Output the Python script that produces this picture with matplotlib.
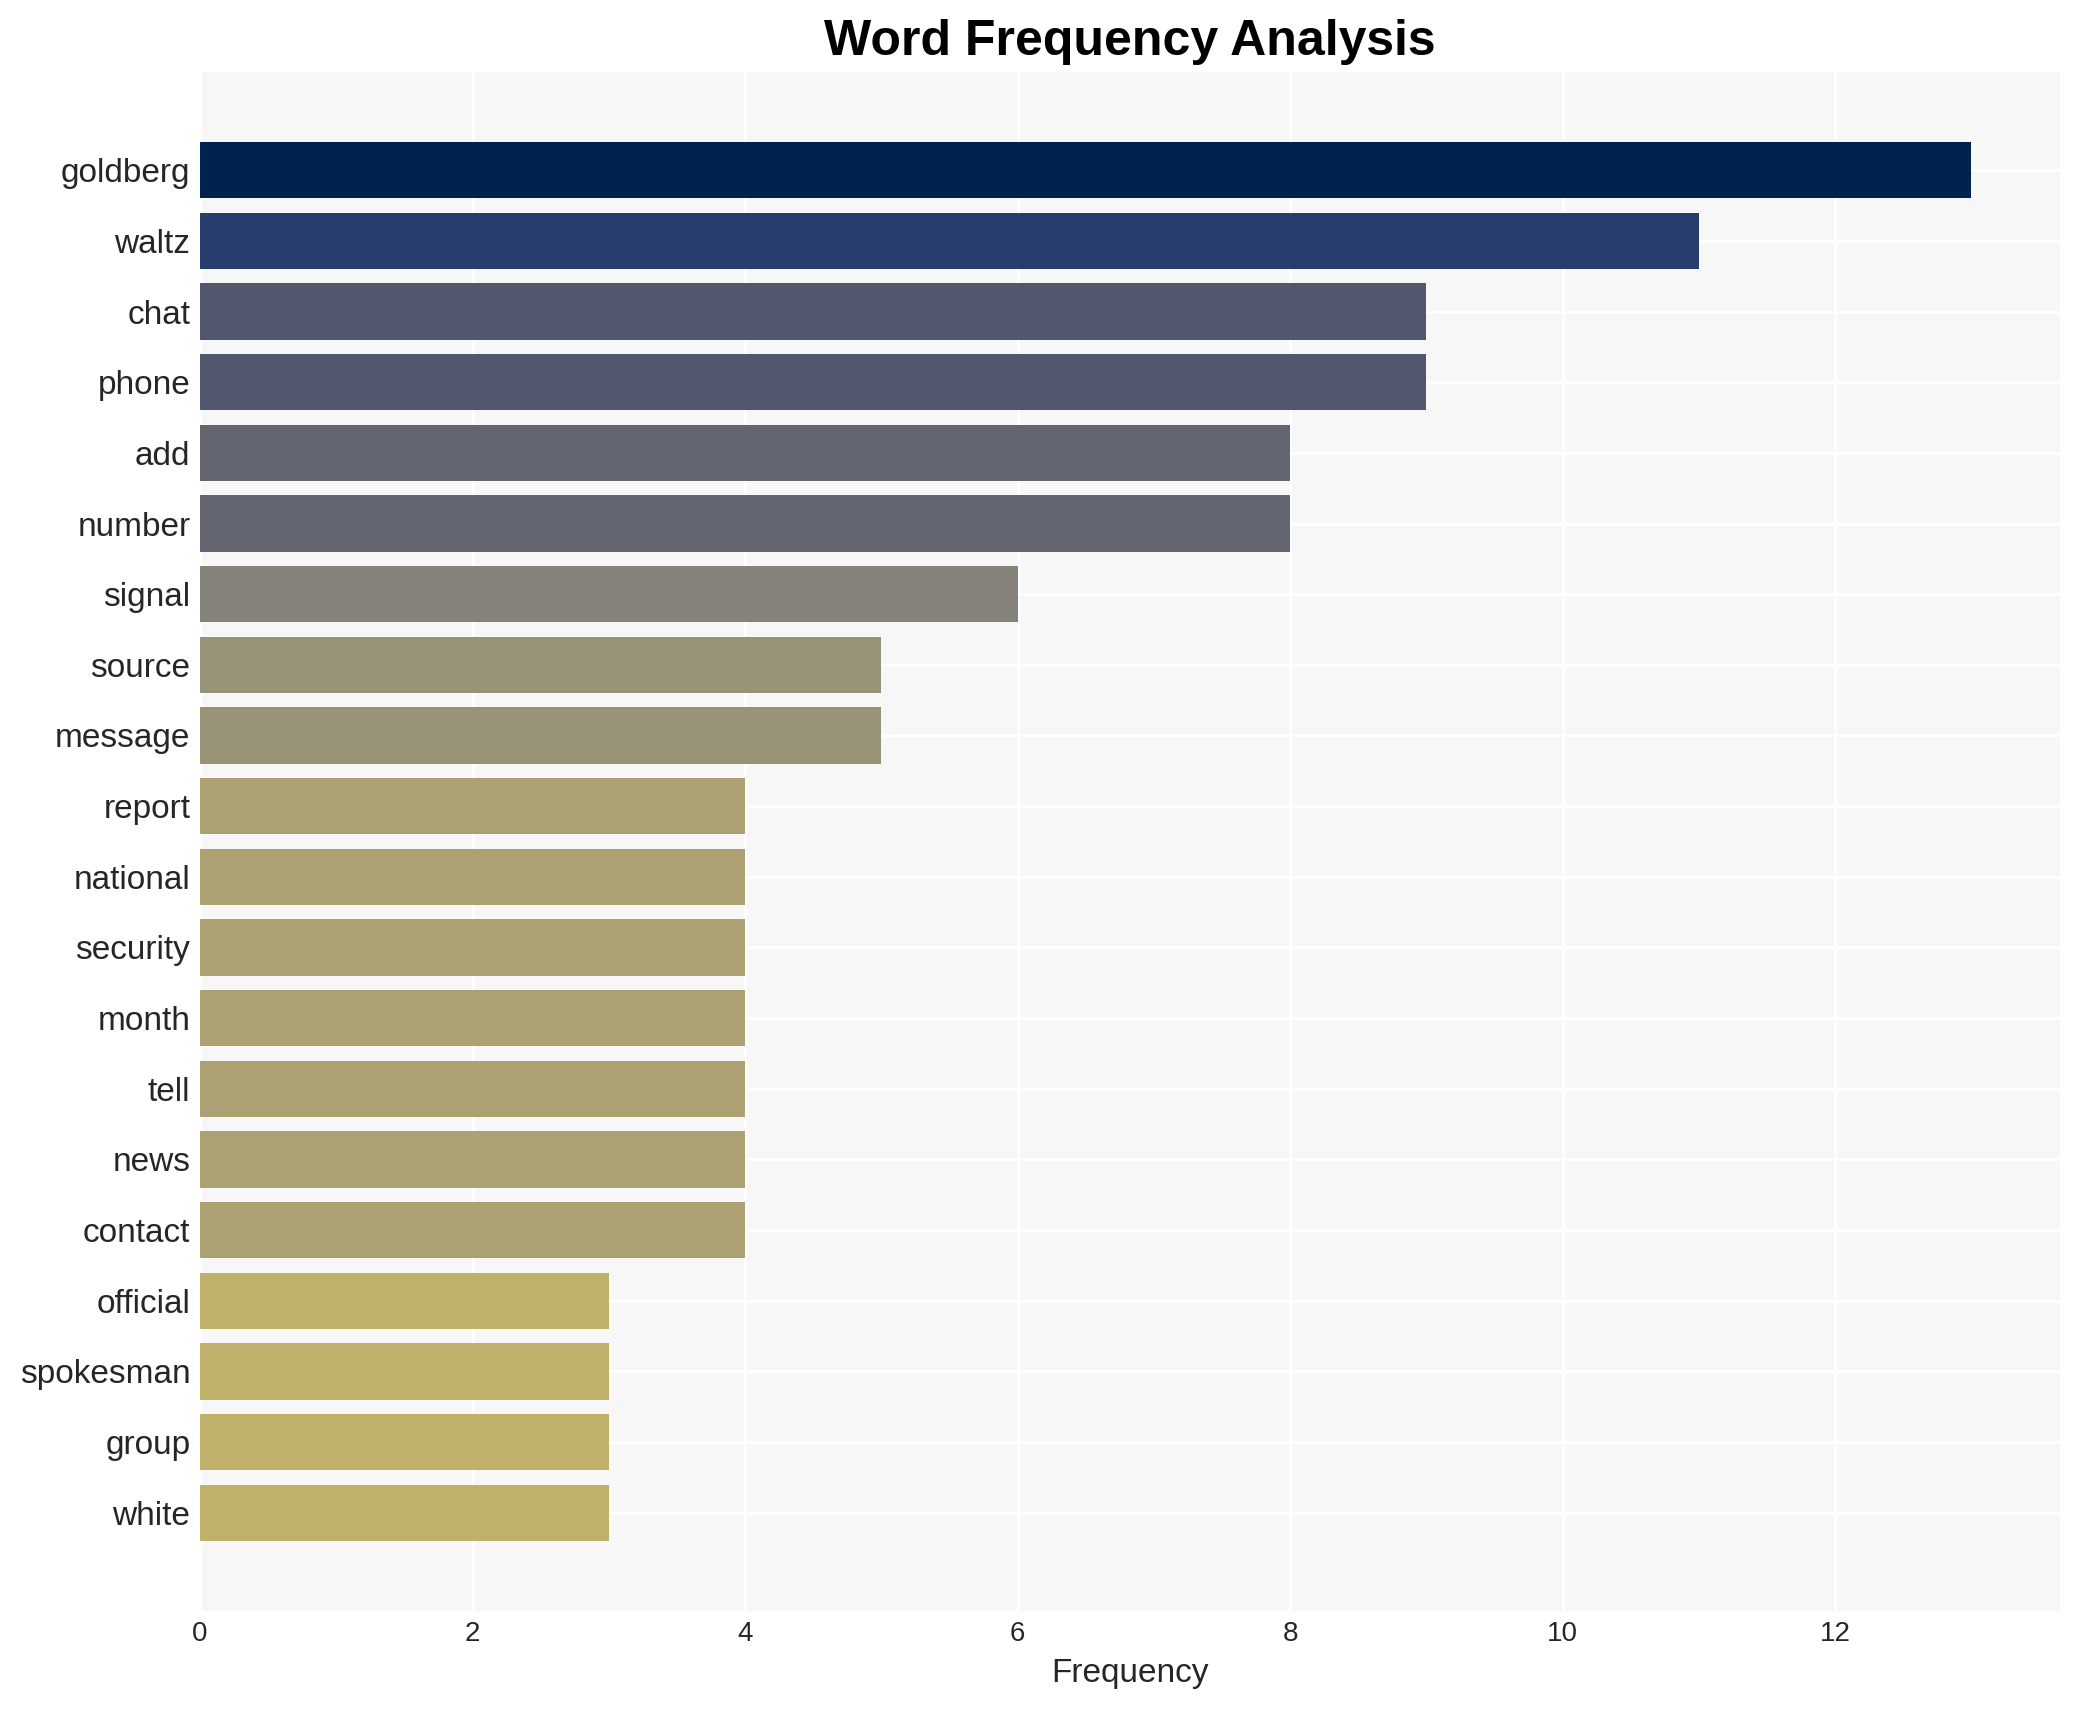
import numpy as np
import matplotlib
matplotlib.use('Agg')
from matplotlib import pyplot as plt

# word counts
words = ['goldberg', 'waltz', 'chat', 'phone', 'add', 'number', 'signal',
         'source', 'message', 'report', 'national', 'security', 'month',
         'tell', 'news', 'contact', 'official', 'spokesman', 'group', 'white']
counts = [13, 11, 9, 9, 8, 8, 6, 5, 5, 4, 4, 4, 4, 4, 4, 4, 3, 3, 3, 3]

plt.rcParams['font.family'] = ['Liberation Sans', 'DejaVu Sans']

fig = plt.figure(figsize=(10.4, 8.55), dpi=200)
ax = fig.add_axes([0.0962, 0.0579, 0.8942, 0.9])

vals = np.array(counts, dtype=float)
colors = plt.cm.cividis(1 - vals / vals.max())

ax.set_facecolor('#f7f7f7')
ax.set_axisbelow(True)
ax.grid(True, color='white', linewidth=1.0)
ax.barh(words, counts, height=0.8, color=colors, zorder=2)
ax.invert_yaxis()

for s in ax.spines.values():
    s.set_visible(False)
ax.tick_params(axis='both', length=0, colors='#262626')
ax.tick_params(axis='y', labelsize=12)
ax.tick_params(axis='x', labelsize=10)

ax.set_xlabel('Frequency', fontsize=12, color='#262626')
ax.set_title('Word Frequency Analysis', fontsize=18, fontweight='bold', color='black')

fig.savefig('out.png', dpi=200, facecolor='white')
